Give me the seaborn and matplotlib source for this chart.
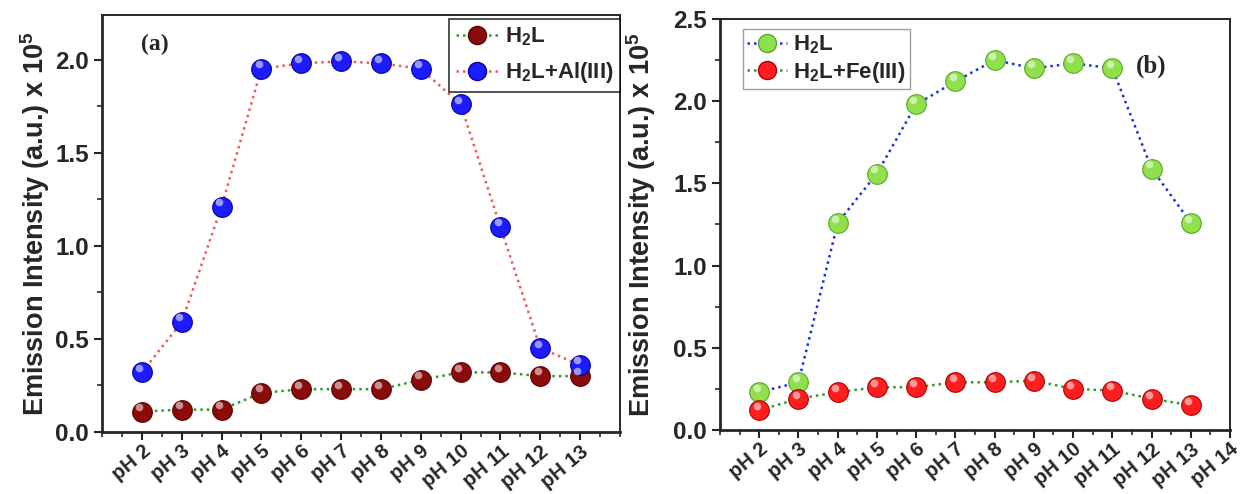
import matplotlib
matplotlib.use('Agg')
import matplotlib.pyplot as plt
from matplotlib.lines import Line2D
from matplotlib.ticker import MultipleLocator
import seaborn as sns
import pandas as pd

# ---- data ----
ph_a = [2, 3, 4, 5, 6, 7, 8, 9, 10, 11, 12, 13]
h2l_a = [0.11, 0.12, 0.12, 0.21, 0.23, 0.23, 0.23, 0.28, 0.32, 0.32, 0.30, 0.30]
h2l_al = [0.32, 0.59, 1.21, 1.95, 1.98, 1.99, 1.98, 1.95, 1.76, 1.10, 0.45, 0.36]

ph_b = [2, 3, 4, 5, 6, 7, 8, 9, 10, 11, 12, 13]
h2l_b = [0.23, 0.29, 1.26, 1.56, 1.98, 2.12, 2.25, 2.20, 2.23, 2.20, 1.59, 1.26]
h2l_fe = [0.12, 0.19, 0.23, 0.26, 0.26, 0.29, 0.29, 0.30, 0.25, 0.24, 0.19, 0.15]

ticks_a = list(range(2, 14))
ticks_b = list(range(2, 15))

sns.set_style('ticks')
plt.rcParams['font.family'] = ['Liberation Sans', 'DejaVu Sans']
plt.rcParams['font.weight'] = 'bold'
plt.rcParams['mathtext.fontset'] = 'custom'
plt.rcParams['mathtext.bf'] = 'Liberation Sans:bold'
plt.rcParams['mathtext.rm'] = 'Liberation Sans:bold'
plt.rcParams['mathtext.default'] = 'bf'

fig = plt.figure(figsize=(12.47, 4.94), dpi=100)
ax_a = fig.add_axes([0.0818, 0.1255, 0.4154, 0.8445])
ax_b = fig.add_axes([0.5774, 0.1296, 0.409, 0.832])

DOT = (0, (1, 1.6))


def draw_series(ax, x, y, face, edge, line_color, label):
    df = pd.DataFrame({'x': x, 'y': y})
    sns.lineplot(data=df, x='x', y='y', ax=ax, color=line_color,
                 linestyle=DOT, linewidth=1.8, zorder=2)
    sns.scatterplot(data=df, x='x', y='y', ax=ax, s=200, color=face,
                    edgecolor=edge, linewidth=0.8, zorder=3)
    # little highlight to mimic the shaded spheres
    ax.scatter(df['x'] - 0.07, df['y'] + 0.025, s=30, color='white',
               alpha=0.55, linewidth=0, zorder=4)
    return Line2D([], [], color=line_color, linestyle=DOT, linewidth=1.8,
                  marker='o', markersize=13, markerfacecolor=face,
                  markeredgecolor=edge, label=label)


h1 = draw_series(ax_a, ph_a, h2l_a, '#8b0a0a', '#5a0000', '#2e9a2e', 'H$_2$L')
h2 = draw_series(ax_a, ph_a, h2l_al, '#1c1cff', '#0000a0', '#f05a5a', 'H$_2$L+Al(III)')
h3 = draw_series(ax_b, ph_b, h2l_b, '#8fe04a', '#5aa82a', '#1f2fe0', 'H$_2$L')
h4 = draw_series(ax_b, ph_b, h2l_fe, '#ff1e1e', '#b00000', '#2e9a2e', 'H$_2$L+Fe(III)')

for ax, ticks, ytop in [(ax_a, ticks_a, 2.24), (ax_b, ticks_b, 2.5)]:
    ax.set_xlim(1, 14)
    ax.set_ylim(0, ytop)
    ax.set_xticks(ticks)
    ax.set_xticklabels([f'pH {t}' for t in ticks], rotation=40, ha='right',
                       va='top', rotation_mode='anchor', fontweight='bold')
    ax.xaxis.set_minor_locator(MultipleLocator(0.5))
    ax.yaxis.set_major_locator(MultipleLocator(0.5))
    ax.yaxis.set_minor_locator(MultipleLocator(0.25))
    ax.tick_params(axis='both', which='major', direction='out', length=6, width=1.5,
                   labelsize=17.5)
    ax.tick_params(axis='both', which='minor', direction='out', length=3.5, width=1.2)
    ax.tick_params(axis='x', pad=1, labelsize=14.5)
    for lbl in ax.get_yticklabels():
        lbl.set_fontweight('bold')
    for side in ['left', 'bottom']:
        ax.spines[side].set_linewidth(2)
    for side in ['top', 'right']:
        ax.spines[side].set_linewidth(1.4)
    ax.set_xlabel('')
    ax.set_ylabel('Emission Intensity (a.u.) x 10$^5$', fontsize=19.5, fontweight='bold')

ax_a.yaxis.set_label_coords(-0.097, 0.5)
ax_b.yaxis.set_label_coords(-0.122, 0.5)

leg_a = ax_a.legend(handles=[h1, h2], loc='upper right', fontsize=16, frameon=True,
                    fancybox=False, edgecolor='black', handlelength=1.9,
                    handletextpad=0.3, borderpad=0.3, borderaxespad=0.0,
                    labelspacing=0.55, bbox_to_anchor=(1.0, 0.99))
leg_b = ax_b.legend(handles=[h3, h4], loc='upper left', fontsize=16, frameon=True,
                    fancybox=False, edgecolor='#888888', handlelength=1.8,
                    handletextpad=0.25, borderpad=0.2, borderaxespad=0.0,
                    labelspacing=0.15, bbox_to_anchor=(0.045, 0.975))
leg_a.get_frame().set_linewidth(1.2)
leg_b.get_frame().set_linewidth(1.0)

ax_a.text(0.075, 0.915, '(a)', transform=ax_a.transAxes, fontsize=17,
          fontweight='bold', family=['Liberation Serif', 'DejaVu Serif'])
ax_b.text(0.815, 0.87, '(b)', transform=ax_b.transAxes, fontsize=18,
          fontweight='bold', family=['Liberation Serif', 'DejaVu Serif'])

fig.savefig('out.png', dpi=100)
